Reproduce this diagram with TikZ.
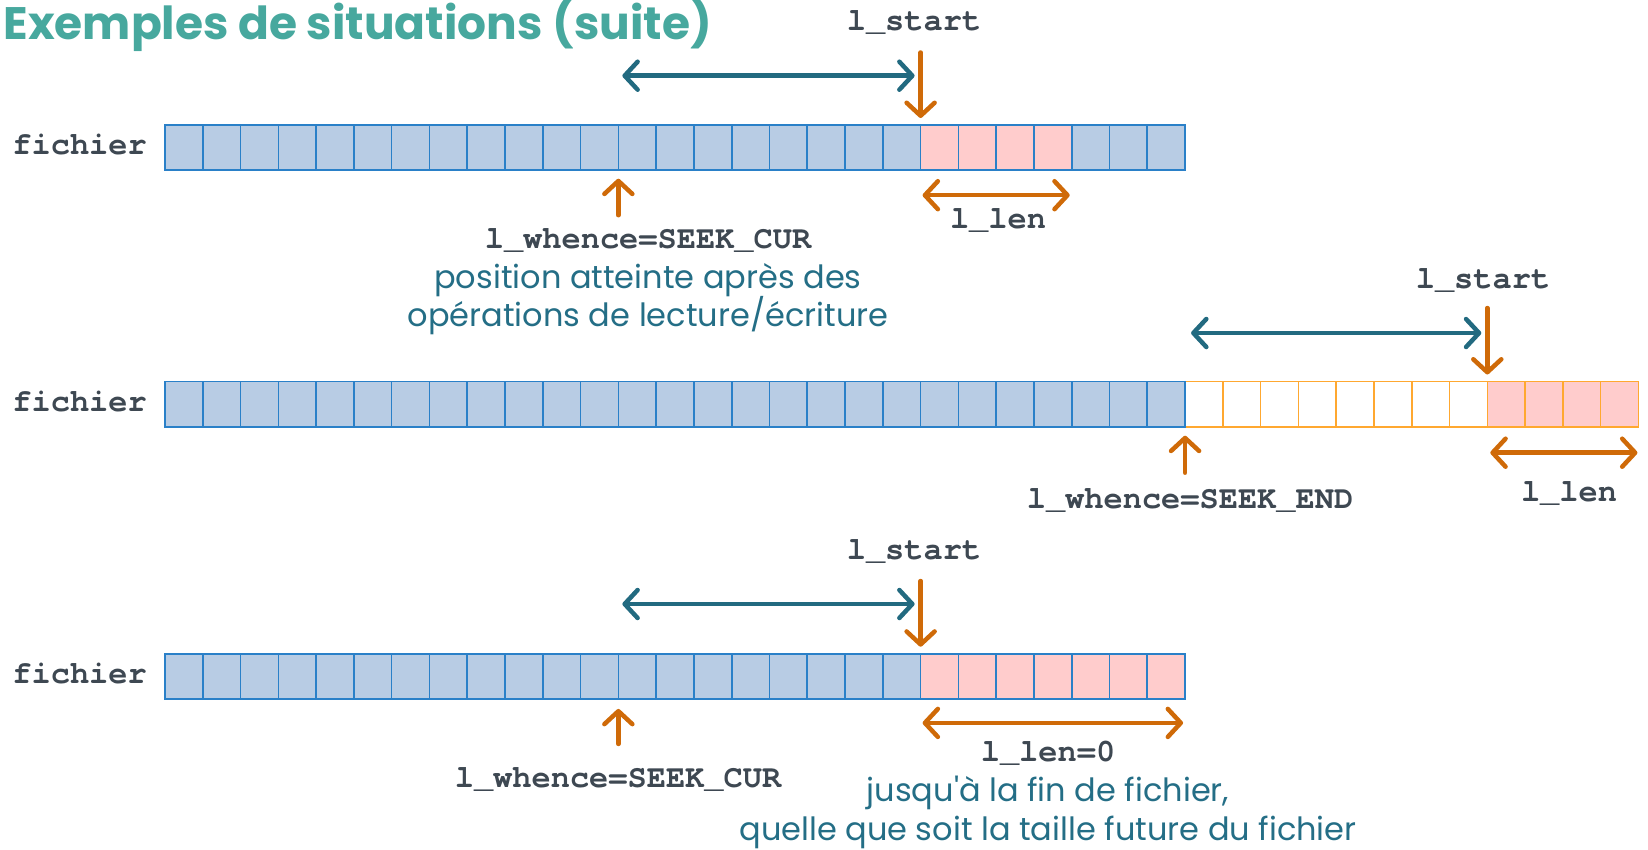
\documentclass[tikz,border=0pt]{standalone}
\usepackage{fontspec}
\usetikzlibrary{arrows.meta,calc}
\newfontfamily\codefont{texgyrecursor}[Extension=.otf,UprightFont=*-regular,BoldFont=*-bold,Ligatures={NoCommon}]
\newfontfamily\notefont{Poppins}
\newfontfamily\headfont{Poppins}
\definecolor{cellblue}{HTML}{2A80C8}
\definecolor{cellfill}{HTML}{B8CCE4}
\definecolor{cellpink}{HTML}{FFCCCC}
\definecolor{cellorange}{HTML}{FFA830}
\definecolor{arrorange}{HTML}{CF6A08}
\definecolor{arrteal}{HTML}{226A80}
\definecolor{codegray}{HTML}{3E4852}
\definecolor{noteblue}{HTML}{246E86}
\definecolor{headteal}{HTML}{47A89E}
\begin{document}
\begin{tikzpicture}[x=1pt,y=-1pt,
  barb/.tip={Straight Barb[length=13pt,width=28pt,line cap=round,line join=round]},
  cell/.style={draw,line width=1.6pt,minimum width=37.78pt,minimum height=45.2pt,
    inner sep=0pt,outer sep=0pt,anchor=north west},
  bluecell/.style={cell,draw=cellblue,fill=cellfill},
  pinkcell/.style={cell,draw=cellblue,fill=cellpink},
  emptycell/.style={cell,draw=cellorange,fill=white},
  pinkocell/.style={cell,draw=cellorange,fill=cellpink},
  code/.style={font=\codefont\bfseries\fontsize{32}{38}\selectfont,text=codegray,inner sep=0pt,anchor=base},
  rowlabel/.style={code,anchor=base east},
  note/.style={font=\notefont\fontsize{32}{38}\selectfont,text=noteblue,inner sep=0pt,anchor=base},
  offset/.style={arrteal,line width=4.5pt,line cap=round,barb-barb},
  len/.style={arrorange,line width=4.5pt,line cap=round,barb-barb},
  pointer/.style={arrorange,line width=4.5pt,line cap=round,-barb}]
\useasboundingbox (0,0) rectangle (1648,849);

% title
\node[font=\headfont\bfseries\fontsize{45.5}{54}\selectfont,text=headteal,
  anchor=base east,inner sep=0pt] (title) at (712,39) {Exemples de situations (suite)};

% ---------- first example ----------
\foreach \i in {0,...,19,24,25,26}
  \node[bluecell] (a\i) at ({165+37.78*\i},125) {};
\foreach \i in {20,...,23}
  \node[pinkcell] (a\i) at ({165+37.78*\i},125) {};
\node[rowlabel] (fa) at (147,154.5) {fichier};

\node[code] (starta) at (914,30) {l\_start};
\coordinate (pa1) at ($(a20.north west)+(0,-72.5)$);
\coordinate (pa2) at ($(a20.north west)+(0,-7)$);
\draw[pointer] (pa1) -- (pa2);
\coordinate (oa1) at ($(a12.north west)+(4,-49.3)$);
\coordinate (oa2) at ($(a20.north west)+(-6,-49.3)$);
\draw[offset] (oa1) -- (oa2);
\coordinate (wa1) at ($(a12.south west)+(0,45)$);
\coordinate (wa2) at ($(a12.south west)+(0,8.5)$);
\draw[pointer] (wa1) -- (wa2);
\coordinate (la1) at ($(a20.south west)+(2,25)$);
\coordinate (la2) at ($(a23.south east)+(-2,25)$);
\draw[len] (la1) -- (la2);
\node[code] (lena) at (998,228) {l\_len};
\node[code] (whencea) at (648,248) {l\_whence=SEEK\_CUR};
\node[note] (notea1) at (648,288) {position atteinte après des};
\node[note] (notea2) at (648,326) {opérations de lecture/écriture};

% ---------- second example ----------
\foreach \i in {27,...,34}
  \node[emptycell] (b\i) at ({165+37.78*\i},381.5) {};
\foreach \i in {35,...,38}
  \node[pinkocell] (b\i) at ({165+37.78*\i},381.5) {};
\foreach \i in {0,...,26}
  \node[bluecell] (b\i) at ({165+37.78*\i},381.5) {};
\node[rowlabel] (fb) at (147,411) {fichier};

\node[code] (startb) at (1483,288) {l\_start};
\coordinate (pb1) at ($(b35.north west)+(0,-73.5)$);
\coordinate (pb2) at ($(b35.north west)+(0,-7)$);
\draw[pointer] (pb1) -- (pb2);
\coordinate (ob1) at ($(b27.north west)+(6,-48.5)$);
\coordinate (ob2) at ($(b35.north west)+(-6,-48.5)$);
\draw[offset] (ob1) -- (ob2);
\coordinate (wb1) at ($(b27.south west)+(0,46)$);
\coordinate (wb2) at ($(b27.south west)+(0,9)$);
\draw[pointer] (wb1) -- (wb2);
\coordinate (lb1) at ($(b35.south west)+(3,26)$);
\coordinate (lb2) at ($(b38.south east)+(-1,26)$);
\draw[len] (lb1) -- (lb2);
\node[code] (lenb) at (1569,501) {l\_len};
\node[code] (whenceb) at (1190,508) {l\_whence=SEEK\_END};

% ---------- third example ----------
\foreach \i in {0,...,19}
  \node[bluecell] (c\i) at ({165+37.78*\i},653.7) {};
\foreach \i in {20,...,26}
  \node[pinkcell] (c\i) at ({165+37.78*\i},653.7) {};
\node[rowlabel] (fc) at (147,683.4) {fichier};

\node[code] (startc) at (914,559) {l\_start};
\coordinate (pc1) at ($(c20.north west)+(0,-72.7)$);
\coordinate (pc2) at ($(c20.north west)+(0,-7)$);
\draw[pointer] (pc1) -- (pc2);
\coordinate (oc1) at ($(c12.north west)+(4,-49.7)$);
\coordinate (oc2) at ($(c20.north west)+(-6,-49.7)$);
\draw[offset] (oc1) -- (oc2);
\coordinate (wc1) at ($(c12.south west)+(0,45)$);
\coordinate (wc2) at ($(c12.south west)+(0,10)$);
\draw[pointer] (wc1) -- (wc2);
\coordinate (lc1) at ($(c20.south west)+(2,24)$);
\coordinate (lc2) at ($(c26.south east)+(-2,24)$);
\draw[len] (lc1) -- (lc2);
\node[code] (lenc) at (1048,761) {l\_len=0};
\node[code] (whencec) at (618,787) {l\_whence=SEEK\_CUR};
\node[note] (notec1) at (1048,801) {jusqu'à la fin de fichier,};
\node[note] (notec2) at (1048,840) {quelle que soit la taille future du fichier};
\end{tikzpicture}
\end{document}
